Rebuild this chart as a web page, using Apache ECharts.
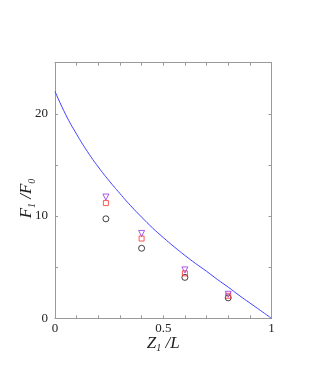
<!DOCTYPE html>
<html>
<head>
<meta charset="utf-8">
<script src="https://cdn.jsdelivr.net/npm/echarts@6/dist/echarts.min.js"></script>
<style>html,body{margin:0;padding:0;background:#fff;}#c{width:327px;height:382px;}</style>
</head>
<body>
<div id="c"></div>
<script>
// Data
const curveX = [0, 0.05, 0.1, 0.15, 0.2, 0.25, 0.3, 0.35, 0.4, 0.45, 0.5, 0.55, 0.6, 0.65, 0.7, 0.75, 0.8, 0.85, 0.9, 0.95, 1.0];
const curveY = [22.2, 19.9, 18.0, 16.3, 14.8, 13.45, 12.2, 11.0, 9.9, 8.85, 7.9, 7.0, 6.15, 5.35, 4.6, 3.8, 3.05, 2.25, 1.5, 0.75, 0];
const pointX = [0.235, 0.4, 0.6, 0.8];
const circleY = [9.73, 6.85, 4.0, 2.0];
const squareY = [11.27, 7.8, 4.4, 2.2];
const triangleY = [11.86, 8.3, 4.73, 2.35];
const xLabels = ['0', '0.5', '1'];
const yLabels = ['0', '10', '20'];

const pairs = (xs, ys) => xs.map((x, i) => [x, ys[i]]);
const FONT = '"Liberation Serif", "DejaVu Serif", serif';
const AXC = '#9a9a9a';

const chart = echarts.init(document.getElementById('c'), null, {renderer: 'canvas'});
const fmtX = v => { const s = String(Math.round(v * 10) / 10); return xLabels.includes(s) ? s : ''; };
const fmtY = v => { const s = String(Math.round(v)); return yLabels.includes(s) ? s : ''; };

const baseAxis = () => ({
  axisLine: {show: true, onZero: false, lineStyle: {color: AXC, width: 1}},
  axisTick: {show: true, inside: true, length: 3, lineStyle: {color: AXC}},
  splitLine: {show: false}
});

chart.setOption({
  animation: false,
  backgroundColor: '#fff',
  grid: {left: 55, right: 55.5, top: 62.7, bottom: 63.7, containLabel: false, outerBoundsMode: 'none'},
  xAxis: [
    Object.assign(baseAxis(), {
      type: 'value', min: 0, max: 1, interval: 0.1, position: 'bottom',
      axisLabel: {formatter: fmtX, color: '#222', fontFamily: FONT, fontSize: 13, margin: 4},
      name: '{i|Z}{s|1}{i| /L}', nameLocation: 'middle', nameGap: 15, nameMoveOverlap: false,
      nameTextStyle: {rich: {
        i: {fontFamily: FONT, fontStyle: 'italic', fontSize: 17, color: '#222'},
        s: {fontFamily: FONT, fontStyle: 'italic', fontSize: 10, color: '#222', padding: [10, 0, 0, 0]}
      }}
    }),
    Object.assign(baseAxis(), {
      type: 'value', min: 0, max: 1, interval: 0.1, position: 'top',
      axisLabel: {show: false}
    })
  ],
  yAxis: [
    Object.assign(baseAxis(), {
      type: 'value', min: 0, max: 25, interval: 5, position: 'left',
      axisLabel: {formatter: fmtY, color: '#222', fontFamily: FONT, fontSize: 13, margin: 7},
      name: '{i|F}{s|1}{i| /F}{s|0}', nameLocation: 'middle', nameGap: 18, nameMoveOverlap: false,
      nameTextStyle: {padding: [0, 16, 0, 0], rich: {
        i: {fontFamily: FONT, fontStyle: 'italic', fontSize: 17, color: '#222'},
        s: {fontFamily: FONT, fontStyle: 'italic', fontSize: 10, color: '#222', padding: [10, 0, 0, 0]}
      }}
    }),
    Object.assign(baseAxis(), {
      type: 'value', min: 0, max: 25, interval: 5, position: 'right',
      axisLabel: {show: false}
    })
  ],
  series: [
    {
      type: 'line', data: pairs(curveX, curveY), smooth: 0.5, showSymbol: false,
      lineStyle: {color: '#4040ff', width: 1}, z: 1
    },
    {
      type: 'scatter', data: pairs(pointX, circleY), symbol: 'circle', symbolSize: 6,
      itemStyle: {color: 'rgba(0,0,0,0)', borderColor: '#111', borderWidth: 1}, z: 2
    },
    {
      type: 'scatter', data: pairs(pointX, squareY), symbol: 'rect', symbolSize: 5,
      itemStyle: {color: 'rgba(0,0,0,0)', borderColor: '#ff3030', borderWidth: 1}, z: 3
    },
    {
      type: 'scatter', data: pairs(pointX, triangleY), symbol: 'triangle', symbolSize: 6, symbolRotate: 180,
      itemStyle: {color: 'rgba(0,0,0,0)', borderColor: '#9a30e0', borderWidth: 1}, z: 4
    }
  ]
});
</script>
</body>
</html>
